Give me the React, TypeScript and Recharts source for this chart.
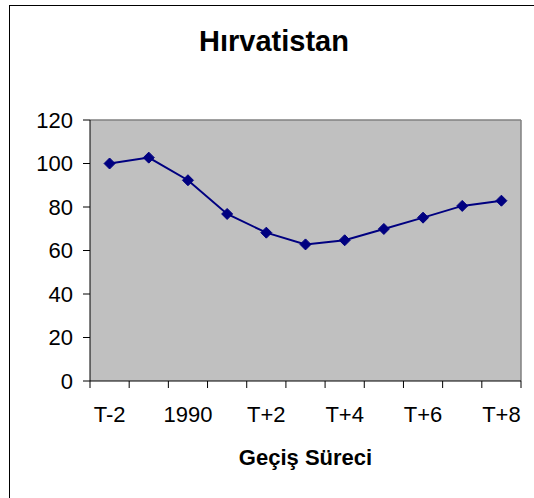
import {
  LineChart,
  Line,
  XAxis,
  YAxis,
  CartesianGrid,
  ReferenceLine,
} from 'recharts';

const periods = ['T-2', 'T-1', '1990', 'T+1', 'T+2', 'T+3', 'T+4', 'T+5', 'T+6', 'T+7', 'T+8'];
const values = [100, 102.7, 92.3, 76.8, 68.2, 62.8, 64.7, 69.9, 75.1, 80.5, 82.9];
const yTicks = [0, 20, 40, 60, 80, 100, 120];
const labelledIdx = [0, 2, 4, 6, 8, 10];

const FONT = '"Liberation Sans", Arial, sans-serif';

// excel-style: points sit between the tick marks
const boundaryTicks = periods.map((_, i) => i - 0.5).concat(periods.length - 0.5);
const domain = [-0.5, periods.length - 0.5];

const data = periods.map((p, i) => ({ idx: i, period: p, value: values[i] }));

function Diamond(props: any) {
  const { cx, cy } = props;
  if (cx == null || cy == null) return null;
  const r = 5.5;
  return (
    <path
      d={`M${cx},${cy - r}L${cx + r},${cy}L${cx},${cy + r}L${cx - r},${cy}Z`}
      fill="#000080"
      stroke="#000080"
    />
  );
}

function App() {
  return (
    <div
      style={{
        position: 'absolute',
        left: 0,
        top: 0,
        width: 534,
        height: 498,
        overflow: 'hidden',
        background: '#fff',
        fontFamily: FONT,
      }}
    >
      <div
        style={{
          position: 'absolute',
          left: 9,
          top: 5,
          width: 600,
          height: 600,
          border: '1px solid #000',
        }}
      />
      <div
        style={{
          position: 'absolute',
          left: 74,
          top: 27,
          width: 400,
          textAlign: 'center',
          fontSize: 29,
          lineHeight: '29px',
          fontWeight: 'bold',
          color: '#000',
        }}
      >
        Hırvatistan
      </div>
      <div style={{ position: 'absolute', left: 0, top: 0 }}>
        <LineChart
          width={534}
          height={498}
          data={data}
          margin={{ top: 120, right: 13, bottom: 0, left: 0 }}
        >
          <CartesianGrid
            xAxisId="bounds"
            fill="#c0c0c0"
            horizontal={false}
            vertical={false}
          />
          <XAxis
            xAxisId="bounds"
            type="number"
            dataKey="idx"
            domain={domain}
            ticks={boundaryTicks}
            tick={() => <g />}
            tickSize={7}
            height={7}
            interval={0}
            axisLine={{ stroke: '#000' }}
            tickLine={{ stroke: '#000' }}
          />
          <XAxis
            xAxisId="cat"
            type="number"
            dataKey="idx"
            domain={domain}
            ticks={labelledIdx}
            tickFormatter={(v: number) => periods[v]}
            interval={0}
            height={110}
            tickSize={0}
            tickMargin={18}
            axisLine={false}
            tickLine={false}
            tick={{ fill: '#000', fontSize: 22, fontFamily: FONT }}
            label={{
              value: 'Geçiş Süreci',
              position: 'insideBottom',
              offset: 33,
              fill: '#000',
              fontSize: 22,
              fontWeight: 'bold',
              fontFamily: FONT,
            }}
          />
          <YAxis
            domain={[0, 120]}
            ticks={yTicks}
            interval={0}
            width={90}
            tickSize={7}
            tickMargin={10}
            axisLine={{ stroke: '#000' }}
            tickLine={{ stroke: '#000' }}
            tick={{ fill: '#000', fontSize: 22, fontFamily: FONT }}
          />
          <ReferenceLine xAxisId="bounds" y={120} stroke="#808080" strokeWidth={1.5} />
          <ReferenceLine xAxisId="bounds" x={periods.length - 0.5} stroke="#808080" strokeWidth={1.5} />
          <Line
            xAxisId="cat"
            type="linear"
            dataKey="value"
            stroke="#000080"
            strokeWidth={2}
            dot={<Diamond />}
            activeDot={false}
            isAnimationActive={false}
          />
        </LineChart>
      </div>
    </div>
  );
}

export default App;
